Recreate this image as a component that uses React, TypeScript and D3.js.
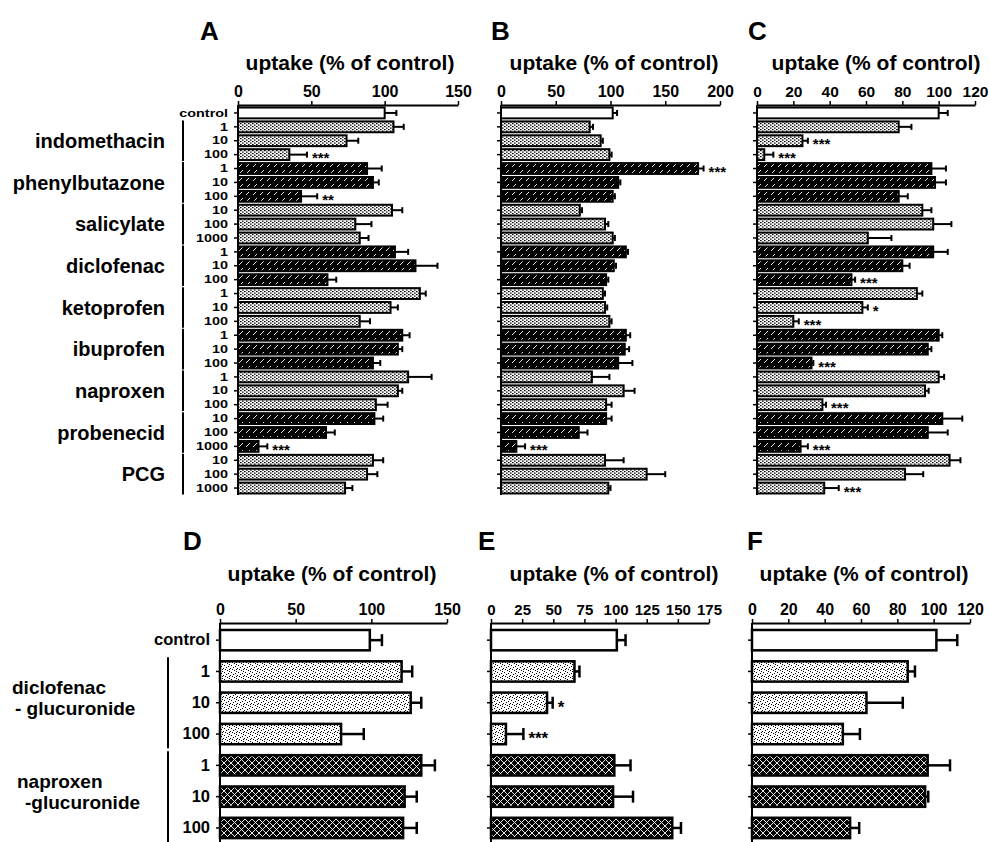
import React, { useEffect, useRef } from "react";
import * as d3 from "d3";

// ---------- DATA ----------
const topGroups = ["indomethacin", "phenylbutazone", "salicylate", "diclofenac", "ketoprofen", "ibuprofen", "naproxen", "probenecid", "PCG"];
const topDoses = [
  ["1", "10", "100"], ["1", "10", "100"], ["10", "100", "1000"], ["1", "10", "100"], ["1", "10", "100"],
  ["1", "10", "100"], ["1", "10", "100"], ["10", "100", "1000"], ["10", "100", "1000"],
];
const bottomGroups = [["diclofenac", "- glucuronide"], ["naproxen", "-glucuronide"]];
const bottomDoses = [["1", "10", "100"], ["1", "10", "100"]];

const meanA = [100, 106, 74, 35, 88, 92, 43, 105, 80, 83, 107, 121, 61, 124, 104, 83, 112, 109, 92, 116, 109, 94, 93, 60, 14, 92, 88, 73];
const errA = [8, 7, 8, 12, 10, 4, 11, 7, 11, 6, 9, 15, 6, 4, 5, 7, 5, 3, 5, 16, 3, 8, 6, 6, 6, 7, 7, 5];
const sigA = ["", "", "", "***", "", "", "**", "", "", "", "", "", "", "", "", "", "", "", "", "", "", "", "", "", "***", "", "", ""];

const meanB = [102, 81, 91, 99, 180, 107, 102, 72, 95, 102, 114, 103, 96, 93, 95, 99, 114, 113, 107, 83, 112, 96, 96, 71, 14, 95, 133, 98];
const errB = [4, 3, 2, 2, 5, 2, 2, 2, 3, 2, 2, 2, 2, 2, 2, 2, 4, 4, 13, 16, 10, 5, 5, 8, 8, 17, 17, 2];
const sigB = ["", "", "", "", "***", "", "", "", "", "", "", "", "", "", "", "", "", "", "", "", "", "", "", "", "***", "", "", ""];

const meanC = [100, 78, 25, 4, 96, 98, 78, 91, 97, 61, 97, 80, 52, 88, 58, 20, 100, 94, 30, 100, 92.5, 36, 102, 94, 24, 106, 81.5, 37];
const errC = [5, 7, 3, 5, 8, 6, 5, 5, 10, 13, 8, 4, 2, 3, 3, 3, 2, 2, 1, 3, 2, 2, 11, 11, 4, 6, 10, 8];
const sigC = ["", "", "***", "***", "", "", "", "", "", "", "", "", "***", "", "*", "***", "", "", "***", "", "", "***", "", "", "***", "", "", "***"];

const meanD = [99, 120, 126, 80, 133, 122, 121];
const errD = [8, 7, 7, 15, 9, 8, 9];
const sigD = ["", "", "", "", "", "", ""];

const meanE = [101, 67, 45, 12, 99, 98, 145.5];
const errE = [7, 4, 4.5, 14, 13, 16, 7];
const sigE = ["", "", "*", "***", "", "", ""];

const meanF = [101.5, 85.7, 63, 50, 96.7, 95.3, 54];
const errF = [11.5, 4, 20, 9.4, 12.3, 1.7, 5];
const sigF = ["", "", "", "", "", "", ""];

const ticksA = [0, 50, 100, 150];
const ticksB = [0, 50, 100, 150, 200];
const ticksC = [0, 20, 40, 60, 80, 100, 120];
const ticksD = [0, 50, 100, 150];
const ticksE = [0, 25, 50, 75, 100, 125, 150, 175];
const ticksF = [0, 20, 40, 60, 80, 100, 120];

const axisTitle = "uptake (% of control)";
const FONT = "'Liberation Sans', Arial, Helvetica, sans-serif";

export default function App() {
  const ref = useRef<SVGSVGElement>(null);

  useEffect(() => {
    const svg = d3.select(ref.current);
    svg.selectAll("*").remove();
    const defs = svg.append("defs");

    // light dotted pattern (top)
    const pl = defs.append("pattern").attr("id", "pLight").attr("width", 4).attr("height", 3).attr("patternUnits", "userSpaceOnUse");
    pl.append("rect").attr("width", 4).attr("height", 3).attr("fill", "#fff");
    pl.append("rect").attr("x", 0).attr("y", 0).attr("width", 1.6).attr("height", 1.2).attr("fill", "#000");
    pl.append("rect").attr("x", 2).attr("y", 1.5).attr("width", 1.6).attr("height", 1.2).attr("fill", "#000");
    // dark hatched pattern (top)
    const pd = defs.append("pattern").attr("id", "pDark").attr("width", 7).attr("height", 7).attr("patternUnits", "userSpaceOnUse");
    pd.append("rect").attr("width", 7).attr("height", 7).attr("fill", "#000");
    pd.append("path").attr("d", "M1,6 L5,2").attr("stroke", "#fff").attr("stroke-width", 0.9);
    // stipple (bottom) - irregular dots
    const ps = defs.append("pattern").attr("id", "pStip").attr("width", 7).attr("height", 7).attr("patternUnits", "userSpaceOnUse");
    ps.append("rect").attr("width", 7).attr("height", 7).attr("fill", "#fff");
    [[0, 0], [4, 1], [2, 2], [6, 3], [1, 4], [3, 5], [5, 6], [5, 4]].forEach(([a, b]) =>
      ps.append("rect").attr("x", a).attr("y", b).attr("width", 1).attr("height", 1).attr("fill", "#000"));
    // cross hatch (bottom)
    const pc = defs.append("pattern").attr("id", "pCross").attr("width", 7).attr("height", 7).attr("patternUnits", "userSpaceOnUse");
    pc.append("rect").attr("width", 7).attr("height", 7).attr("fill", "#000");
    pc.append("path").attr("d", "M0,0 L7,7 M7,0 L0,7").attr("stroke", "#fff").attr("stroke-width", 0.9);

    const topLabels = ["control", ...topDoses.flat()];
    const topGroupIdx = [-1, ...topDoses.flatMap((d, g) => d.map(() => g))];
    const botLabels = ["control", ...bottomDoses.flat()];
    const botGroupIdx = [-1, ...bottomDoses.flatMap((d, g) => d.map(() => g))];

    const topFill = (i: number) => (topGroupIdx[i] < 0 ? "#fff" : topGroupIdx[i] % 2 === 0 ? "url(#pLight)" : "url(#pDark)");
    const botFill = (i: number) => (botGroupIdx[i] < 0 ? "#fff" : botGroupIdx[i] === 0 ? "url(#pStip)" : "url(#pCross)");

    const panels = [
      { letter: "A", means: meanA, errs: errA, sigs: sigA, ticks: ticksA, x0: 238, x1: 458, letterX: 200, titleCx: 350, rowLabels: true, top: true, tickFs: 16 },
      { letter: "B", means: meanB, errs: errB, sigs: sigB, ticks: ticksB, x0: 501, x1: 720, letterX: 491, titleCx: 614, rowLabels: false, top: true, tickFs: 16 },
      { letter: "C", means: meanC, errs: errC, sigs: sigC, ticks: ticksC, x0: 757, x1: 975, letterX: 748, titleCx: 876, rowLabels: false, top: true, tickFs: 15.5 },
      { letter: "D", means: meanD, errs: errD, sigs: sigD, ticks: ticksD, x0: 220, x1: 447, letterX: 183, titleCx: 332, rowLabels: true, top: false, tickFs: 16 },
      { letter: "E", means: meanE, errs: errE, sigs: sigE, ticks: ticksE, x0: 491, x1: 709, letterX: 478, titleCx: 614, rowLabels: false, top: false, tickFs: 15 },
      { letter: "F", means: meanF, errs: errF, sigs: sigF, ticks: ticksF, x0: 752, x1: 970, letterX: 747, titleCx: 864, rowLabels: false, top: false, tickFs: 16 },
    ];

    panels.forEach((p) => {
      const g = svg.append("g");
      const axisY = p.top ? 105 : 623;
      const bandTop = p.top ? 106 : 624.5;
      const bandBot = p.top ? 495 : 843.6;
      const pad = p.top ? 0.22 : 0.35;
      const labels = p.top ? topLabels : botLabels;
      const fill = p.top ? topFill : botFill;
      const sw = p.top ? 2 : 2.5;
      const capH = p.top ? 3 : 6;
      const max = p.ticks[p.ticks.length - 1];

      const x = d3.scaleLinear().domain([0, max]).range([p.x0, p.x1]);
      const y = d3.scaleBand<number>().domain(d3.range(labels.length)).range([bandTop, bandBot]).paddingInner(pad).paddingOuter(pad / 2);
      const bw = y.bandwidth();

      // letter & title
      g.append("text").attr("x", p.letterX).attr("y", p.top ? 40 : 550).text(p.letter)
        .attr("font-family", FONT).attr("font-weight", "bold").attr("font-size", 26);
      g.append("text").attr("x", p.titleCx).attr("y", p.top ? 70 : 581).attr("text-anchor", "middle").text(axisTitle)
        .attr("font-family", FONT).attr("font-weight", "bold").attr("font-size", 21);

      // bars
      g.selectAll("rect.bar").data(p.means).join("rect").attr("class", "bar")
        .attr("x", x(0)).attr("y", (_d, i) => y(i)!).attr("width", (d) => x(d) - x(0)).attr("height", bw)
        .attr("fill", (_d, i) => fill(i)).attr("stroke", "#000").attr("stroke-width", sw);

      // error bars
      p.means.forEach((m, i) => {
        const cy = y(i)! + bw / 2;
        const xe = x(m + p.errs[i]);
        g.append("line").attr("x1", x(m)).attr("x2", xe).attr("y1", cy).attr("y2", cy).attr("stroke", "#000").attr("stroke-width", sw);
        g.append("line").attr("x1", xe).attr("x2", xe).attr("y1", cy - capH).attr("y2", cy + capH).attr("stroke", "#000").attr("stroke-width", sw);
        if (p.sigs[i]) {
          const fs = p.top ? 15 : 17;
          g.append("text").attr("x", xe + 5).attr("y", cy + 0.58 * fs).text(p.sigs[i])
            .attr("font-family", FONT).attr("font-weight", "bold").attr("font-size", fs);
        }
      });

      // top axis
      const ax = g.append("g").attr("transform", `translate(0,${axisY})`)
        .call(d3.axisTop(x).tickValues(p.ticks).tickSize(4).tickSizeOuter(0).tickPadding(4).tickFormat(d3.format("d")));
      ax.select(".domain").attr("stroke-width", 2);
      ax.selectAll(".tick line").attr("stroke-width", 1.5);
      ax.selectAll(".tick text").attr("font-family", FONT).attr("font-weight", "bold").attr("font-size", p.tickFs).attr("fill", "#000");

      // left axis
      const sx = p.top ? 1.25 : 1;
      const ly = g.append("g").attr("transform", `translate(${p.x0},0)`)
        .call(d3.axisLeft(y).tickSize(4).tickSizeOuter(0).tickPadding(6).tickFormat((i) => (p.rowLabels ? labels[i as number] : "")));
      ly.select(".domain").attr("stroke-width", 2).attr("d", `M0,${axisY}V${p.top ? bandBot : 842}`);
      ly.selectAll(".tick line").attr("stroke-width", 1.5);
      ly.selectAll(".tick text").attr("font-family", FONT).attr("font-weight", "bold")
        .attr("font-size", p.top ? 11.5 : 16.5).attr("fill", "#000")
        .attr("x", -10 / sx).attr("transform", `scale(${sx},1)`);

      // groups (brackets + names)
      if (p.rowLabels) {
        const gIdx = p.top ? topGroupIdx : botGroupIdx;
        const nG = p.top ? topGroups.length : bottomGroups.length;
        for (let k = 0; k < nG; k++) {
          const rows = d3.range(labels.length).filter((i) => gIdx[i] === k);
          const yTop = y(rows[0])! - (p.top ? 1 : 4);
          const yBot = y(rows[rows.length - 1])! + bw + (p.top ? 1 : 4);
          const bx = p.top ? 183 : 168;
          g.append("line").attr("x1", bx).attr("x2", bx).attr("y1", yTop).attr("y2", yBot).attr("stroke", "#000").attr("stroke-width", 2);
          const cy = (yTop + yBot) / 2;
          if (p.top) {
            g.append("text").attr("x", 165).attr("y", cy).attr("dy", "0.36em").attr("text-anchor", "end").text(topGroups[k])
              .attr("font-family", FONT).attr("font-weight", "bold").attr("font-size", 20);
          } else {
            const lines = bottomGroups[k];
            const xs = k === 0 ? [12, 15] : [17, 25];
            lines.forEach((ln, j) => {
              g.append("text").attr("x", xs[j]).attr("y", cy + (j === 0 ? -9 : 12)).text(ln)
                .attr("font-family", FONT).attr("font-weight", "bold").attr("font-size", 19);
            });
          }
        }
      }
    });
  }, []);

  return (
    <svg ref={ref} width={989} height={842}
      style={{ position: "absolute", left: 0, top: 0, display: "block", background: "#fff" }} />
  );
}
